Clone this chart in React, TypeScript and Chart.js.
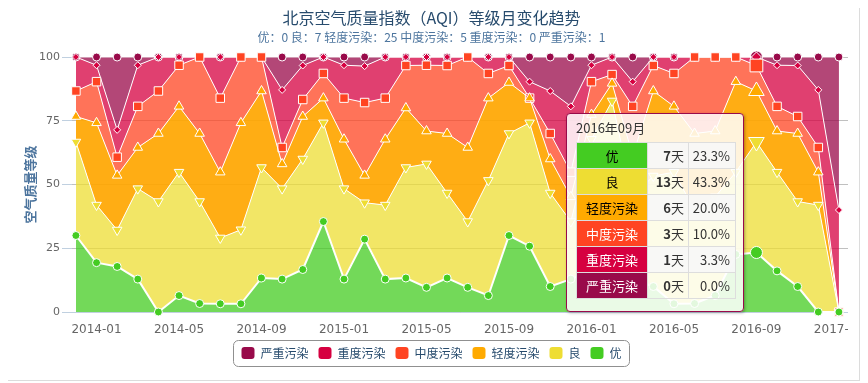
import React, { useEffect, useRef } from 'react';
import { Chart, registerables } from 'chart.js';

Chart.register(...registerables);

// ---------- data ----------
const months = [
  '2013-12',
  '2014-01', '2014-02', '2014-03', '2014-04', '2014-05', '2014-06',
  '2014-07', '2014-08', '2014-09', '2014-10', '2014-11', '2014-12',
  '2015-01', '2015-02', '2015-03', '2015-04', '2015-05', '2015-06',
  '2015-07', '2015-08', '2015-09', '2015-10', '2015-11', '2015-12',
  '2016-01', '2016-02', '2016-03', '2016-04', '2016-05', '2016-06',
  '2016-07', '2016-08', '2016-09', '2016-10', '2016-11', '2016-12',
  '2017-01',
];

const seriesNames = ['优', '良', '轻度污染', '中度污染', '重度污染', '严重污染'];

// days per month in each level
const daysYou = [9, 6, 5, 4, 0, 2, 1, 1, 1, 4, 4, 5, 11, 4, 8, 4, 4, 3, 4, 3, 2, 9, 8, 3, 4, 5, 7, 4, 3, 1, 1, 2, 7, 7, 5, 3, 0, 0];
const daysLiang = [11, 7, 4, 11, 13, 15, 12, 8, 9, 13, 11, 13, 12, 11, 4, 9, 13, 15, 10, 8, 14, 12, 15, 11, 7, 16, 17, 10, 13, 16, 11, 12, 10, 13, 12, 10, 13, 0];
const daysQing = [3, 10, 6, 5, 8, 8, 8, 8, 13, 9, 3, 5, 3, 6, 3, 8, 7, 4, 7, 9, 10, 6, 3, 4, 3, 3, 2, 5, 10, 8, 9, 8, 11, 6, 5, 8, 4, 0];
const daysZhong = [3, 5, 2, 5, 5, 5, 9, 9, 8, 4, 2, 2, 3, 5, 8, 5, 5, 8, 8, 11, 3, 2, 0, 3, 3, 4, 1, 6, 3, 4, 9, 9, 3, 3, 3, 2, 3, 0];
const daysZhongdu = [4, 2, 3, 5, 4, 1, 0, 5, 0, 0, 7, 4, 2, 4, 4, 5, 1, 1, 1, 0, 2, 1, 2, 5, 8, 2, 2, 3, 1, 2, 0, 0, 0, 1, 5, 6, 7, 2];
const daysYanzhong = [0, 1, 8, 1, 0, 0, 0, 0, 0, 0, 4, 1, 0, 1, 1, 0, 0, 0, 0, 0, 0, 0, 3, 4, 6, 1, 0, 3, 0, 0, 0, 0, 0, 0, 1, 1, 4, 3];

const seriesColors = ['#44cc22', '#eedd33', '#ffaa00', '#ff4422', '#d60040', '#990a4a'];
const areaColors = [
  'rgba(68,204,34,0.75)',
  'rgba(238,221,51,0.75)',
  'rgba(255,166,0,0.92)',
  'rgba(255,68,34,0.75)',
  'rgba(214,0,64,0.75)',
  'rgba(153,10,74,0.75)',
];

const titleText = '北京空气质量指数（AQI）等级月变化趋势';
const subtitleText = '优：0 良：7 轻度污染：25 中度污染：5 重度污染：0 严重污染：1';
const yAxisTitle = '空气质量等级';
const xTickIndices = [1, 5, 9, 13, 17, 21, 25, 29, 33, 37];
const hoverIndex = 33;
const tooltipTitle = '2016年09月';
const dayUnit = '天';

const CJK = '"Noto Sans CJK SC", "Microsoft YaHei", sans-serif';
const LATIN = '"DejaVu Sans", Verdana, sans-serif';

const markerStyles = [
  { style: 'circle', rot: 0, r: 4, hr: 6 },
  { style: 'triangle', rot: 180, r: 5.5, hr: 9 },
  { style: 'triangle', rot: 0, r: 5.5, hr: 9 },
  { style: 'rect', rot: 0, r: 6, hr: 9 },
  { style: 'rectRot', rot: 0, r: 3.5, hr: 5 },
  { style: 'circle', rot: 0, r: 4, hr: 6 },
];

const allDays = [daysYou, daysLiang, daysQing, daysZhong, daysZhongdu, daysYanzhong];

const legendBoxPlugin = {
  id: 'legendBox',
  afterDraw(chart: any) {
    const lg = chart.legend;
    if (!lg || !lg.legendHitBoxes || !lg.legendHitBoxes.length) return;
    let x0 = Infinity, x1 = -Infinity, y0 = Infinity, y1 = -Infinity;
    lg.legendHitBoxes.forEach((b: any) => {
      x0 = Math.min(x0, b.left);
      x1 = Math.max(x1, b.left + b.width);
      y0 = Math.min(y0, b.top);
      y1 = Math.max(y1, b.top + b.height);
    });
    const ctx = chart.ctx;
    ctx.save();
    ctx.strokeStyle = '#909090';
    ctx.lineWidth = 1;
    ctx.beginPath();
    const L = Math.round(x0 - 8) + 0.5;
    const T = Math.round(y0 - 7) + 0.5;
    const W = Math.round(x1 - x0 + 16);
    const H = Math.round(y1 - y0 + 14);
    (ctx as any).roundRect(L, T, W, H, 5);
    ctx.stroke();
    ctx.restore();
  },
};

export default function App() {
  const canvasRef = useRef<HTMLCanvasElement>(null);
  const tipRef = useRef<HTMLDivElement>(null);

  const totals = months.map((_, i) => allDays.reduce((s, d) => s + d[i], 0));

  useEffect(() => {
    if (!canvasRef.current) return;
    const pct = allDays.map((d) => d.map((v, i) => (v / totals[i]) * 100));
    const datasets = allDays.map((_, k) => ({
      label: seriesNames[k],
      data: pct[k].map((v, i) => ({ x: i, y: v })),
      fill: k === 0 ? 'origin' : '-1',
      backgroundColor: areaColors[k],
      borderColor: '#ffffff',
      borderWidth: k === 0 ? 2 : 1,
      pointStyle: markerStyles[k].style,
      pointRotation: markerStyles[k].rot,
      pointRadius: months.map((_, i) => (i === hoverIndex ? markerStyles[k].hr : markerStyles[k].r)),
      pointBackgroundColor: seriesColors[k],
      pointBorderColor: '#ffffff',
      pointBorderWidth: 1,
      tension: 0,
      clip: false,
    }));

    const chart = new Chart(canvasRef.current, {
      type: 'line',
      data: { datasets } as any,
      options: {
        responsive: false,
        animation: false,
        events: [],
        layout: { padding: { top: 0, bottom: 11, left: 0, right: 0 } },
        plugins: {
          filler: { drawTime: 'beforeDatasetsDraw' },
          tooltip: { enabled: false },
          title: {
            display: true,
            text: titleText,
            color: '#274b6d',
            font: { size: 16, family: CJK, weight: 'normal' },
            padding: { top: 0, bottom: 0 },
          },
          subtitle: {
            display: true,
            text: subtitleText,
            color: '#4d759e',
            font: { size: 12, family: CJK },
            padding: { top: 3, bottom: 12.4 },
          },
          legend: {
            position: 'bottom',
            reverse: true,
            labels: {
              boxWidth: 13,
              boxHeight: 12,
              padding: 10,
              color: '#274b6d',
              font: { size: 12, family: CJK },
              useBorderRadius: true,
              borderRadius: 3,
              generateLabels: (c: any) =>
                c.data.datasets.map((ds: any, i: number) => ({
                  text: ds.label,
                  fillStyle: seriesColors[i],
                  strokeStyle: seriesColors[i],
                  lineWidth: 0,
                  hidden: false,
                  datasetIndex: i,
                  borderRadius: 3,
                  fontColor: '#274b6d',
                })),
            },
          },
        } as any,
        scales: {
          x: {
            type: 'linear',
            min: -0.19,
            max: 37.44,
            grid: { display: false },
            border: { display: true, color: '#c0d0e0' },
            ticks: {
              autoSkip: false,
              maxRotation: 0,
              padding: 3,
              color: '#666666',
              font: { size: 12, family: LATIN },
              callback: (v: any) => months[v] ?? '',
            },
            afterBuildTicks: (s: any) => {
              s.ticks = xTickIndices.map((v) => ({ value: v }));
            },
            afterFit: (s: any) => {
              s.height = 25;
              s.paddingLeft = 0;
              s.paddingRight = 0;
            },
          } as any,
          y: {
            min: 0,
            max: 100,
            stacked: true,
            ticks: { stepSize: 25, color: '#666666', font: { size: 11, family: LATIN }, padding: 2 },
            grid: { color: '#c0c0c0', tickColor: '#c0d0e0', tickLength: 10, drawTicks: true },
            border: { display: false },
            title: {
              display: true,
              text: yAxisTitle,
              color: '#4d759e',
              font: { size: 13, weight: 'bold', family: CJK },
              padding: { top: 14, bottom: 0 },
            },
            afterFit: (s: any) => {
              s.width = 64;
            },
          } as any,
        },
      },
      plugins: [legendBoxPlugin],
    });

    // place the (static) hover tooltip next to the hovered month
    if (tipRef.current) {
      const xPix = chart.scales.x.getPixelForValue(hoverIndex);
      tipRef.current.style.left = `${Math.round(xPix - 12 - 178)}px`;
    }

    return () => chart.destroy();
  }, []);

  const tipTotal = totals[hoverIndex];

  return (
    <div style={{ position: 'relative', width: 851, height: 372, borderRight: '1px solid #dcdcdc', borderBottom: '1px solid #dcdcdc' }}>
      <div style={{ width: 840, height: 372, overflow: 'hidden' }}>
        <canvas ref={canvasRef} width={847} height={372} style={{ display: 'block' }} />
      </div>
      <div
        ref={tipRef}
        style={{
          position: 'absolute',
          left: 559,
          top: 105,
          width: 178,
          height: 199,
          boxSizing: 'border-box',
          background: 'rgba(255,255,255,0.85)',
          border: '1px solid #990a4a',
          borderRadius: 4,
          boxShadow: '1px 1px 3px rgba(0,0,0,0.3)',
          padding: '4px 9px 0 9px',
          fontFamily: CJK,
          fontSize: 13,
          color: '#333333',
        }}
      >
        <div style={{ height: 20, lineHeight: '20px', marginBottom: 4 }}>{tooltipTitle}</div>
        <table style={{ borderCollapse: 'collapse', tableLayout: 'fixed', width: 159 }}>
          <colgroup>
            <col style={{ width: 71 }} />
            <col style={{ width: 41 }} />
            <col style={{ width: 47 }} />
          </colgroup>
          <tbody>
            {seriesNames.map((name, k) => {
              const d = allDays[k][hoverIndex];
              const p = ((d / tipTotal) * 100).toFixed(1) + '%';
              const rowBg = k % 2 === 0 ? 'rgba(247,247,247,0.92)' : 'transparent';
              const cell = { border: '1px solid #dddddd', height: 25, padding: 0 } as React.CSSProperties;
              return (
                <tr key={name}>
                  <td style={{ ...cell, background: seriesColors[k], color: k < 3 ? '#000000' : '#ffffff', textAlign: 'center' }}>{name}</td>
                  <td style={{ ...cell, background: rowBg, textAlign: 'right', paddingRight: 4 }}>
                    <b>{d}</b>
                    {dayUnit}
                  </td>
                  <td style={{ ...cell, background: rowBg, textAlign: 'right', paddingRight: 5 }}>{p}</td>
                </tr>
              );
            })}
          </tbody>
        </table>
      </div>
    </div>
  );
}
